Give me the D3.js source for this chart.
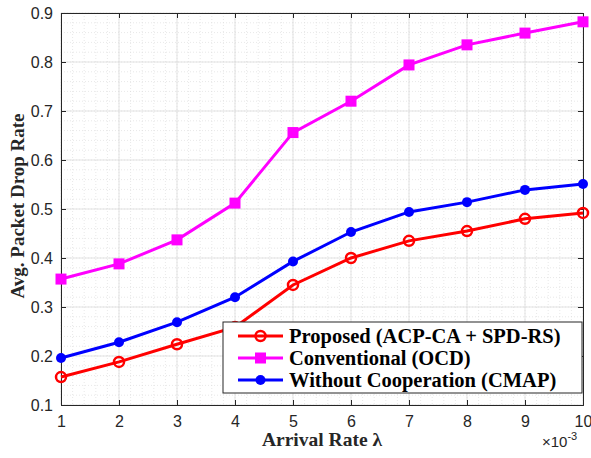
<!DOCTYPE html>
<html>
<head>
<meta charset="utf-8">
<script src="https://cdn.jsdelivr.net/npm/d3@7"></script>
<style>
  body { margin: 0; background: #fff; }
  svg { display: block; }
</style>
</head>
<body>
<svg></svg>
<script>
var width = 591,
  height = 458;

var margin = { top: 13, right: 8, bottom: 53, left: 61 };

// arrival rate (x 10^-3)
var rates = [1, 2, 3, 4, 5, 6, 7, 8, 9, 10];
var proposed = [0.157, 0.188, 0.224, 0.259, 0.345, 0.400, 0.435, 0.455, 0.480, 0.492];
var conventional = [0.357, 0.388, 0.437, 0.512, 0.656, 0.720, 0.794, 0.835, 0.859, 0.882];
var withoutCoop = [0.196, 0.228, 0.269, 0.320, 0.393, 0.453, 0.494, 0.514, 0.539, 0.551];
var yTicks = [0.1, 0.2, 0.3, 0.4, 0.5, 0.6, 0.7, 0.8, 0.9];
var names = ["Proposed (ACP-CA + SPD-RS)", "Conventional (OCD)", "Without Cooperation (CMAP)"];

var series = [
  { name: names[0], values: proposed, color: "#ff0000", marker: "opencircle" },
  { name: names[1], values: conventional, color: "#ff00ff", marker: "square" },
  { name: names[2], values: withoutCoop, color: "#0000ff", marker: "circle" }
];

var svg = d3.select("svg")
  .attr("width", width)
  .attr("height", height);

var w = width - margin.left - margin.right,
  h = height - margin.top - margin.bottom;

var x = d3.scaleLinear().domain([1, 10]).range([0, w]);
var y = d3.scaleLinear().domain([0.1, 0.9]).range([h, 0]);

var g = svg.append("g").attr("transform", "translate(" + margin.left + "," + margin.top + ")");

// minor grid
var xMinor = d3.range(1, 10.001, 0.2);
var yMinor = d3.range(0.1, 0.9001, 0.02);
g.append("g").selectAll("line").data(xMinor).enter().append("line")
  .attr("x1", d => x(d)).attr("x2", d => x(d))
  .attr("y1", 0).attr("y2", h)
  .attr("stroke", "#d8d8d8").attr("stroke-width", 0.6).attr("stroke-dasharray", "1,2");
g.append("g").selectAll("line").data(yMinor).enter().append("line")
  .attr("y1", d => y(d)).attr("y2", d => y(d))
  .attr("x1", 0).attr("x2", w)
  .attr("stroke", "#d8d8d8").attr("stroke-width", 0.6).attr("stroke-dasharray", "1,2");

// major grid
g.append("g").selectAll("line").data(rates).enter().append("line")
  .attr("x1", d => x(d)).attr("x2", d => x(d))
  .attr("y1", 0).attr("y2", h)
  .attr("stroke", "#dcdcdc").attr("stroke-width", 0.8);
g.append("g").selectAll("line").data(yTicks).enter().append("line")
  .attr("y1", d => y(d)).attr("y2", d => y(d))
  .attr("x1", 0).attr("x2", w)
  .attr("stroke", "#dcdcdc").attr("stroke-width", 0.8);

// axes (ticks inside, box on)
var tickFont = "Liberation Sans, Arial, sans-serif";
g.append("g").attr("transform", "translate(0," + h + ")")
  .call(d3.axisBottom(x).tickValues(rates).tickSize(-5).tickPadding(11).tickFormat(d3.format("d")));
g.append("g")
  .call(d3.axisLeft(y).tickValues(yTicks).tickSize(-5).tickPadding(8).tickFormat(d3.format(".1f")));
g.append("g")
  .call(d3.axisTop(x).tickValues(rates).tickSize(-5).tickFormat(""));
g.append("g").attr("transform", "translate(" + w + ",0)")
  .call(d3.axisRight(y).tickValues(yTicks).tickSize(-5).tickFormat(""));

g.selectAll(".domain").attr("stroke", "#262626").attr("stroke-width", 1);
g.selectAll(".tick line").attr("stroke", "#262626");
g.selectAll(".tick text").attr("fill", "#262626")
  .style("font-family", tickFont).style("font-size", "16px");

// lines
var line = d3.line()
  .x((d, i) => x(rates[i]))
  .y(d => y(d));

series.forEach(s => {
  g.append("path")
    .datum(s.values)
    .attr("fill", "none")
    .attr("stroke", s.color)
    .attr("stroke-width", 3)
    .attr("d", line);
});

function drawMarker(sel, type, color, cx, cy) {
  if (type === "square") {
    sel.append("rect").attr("x", cx - 5.5).attr("y", cy - 5.5)
      .attr("width", 11).attr("height", 11).attr("fill", color);
  } else if (type === "circle") {
    sel.append("circle").attr("cx", cx).attr("cy", cy).attr("r", 5).attr("fill", color);
  } else {
    sel.append("circle").attr("cx", cx).attr("cy", cy).attr("r", 5)
      .attr("fill", "none").attr("stroke", color).attr("stroke-width", 2.5);
  }
}

series.forEach(s => {
  var mg = g.append("g");
  s.values.forEach((v, i) => drawMarker(mg, s.marker, s.color, x(rates[i]), y(v)));
});

// legend
var lx = 162, ly = 309, lw = 359, lh = 71;
var leg = g.append("g");
leg.append("rect").attr("x", lx).attr("y", ly).attr("width", lw).attr("height", lh)
  .attr("fill", "#fff").attr("stroke", "#262626").attr("stroke-width", 1);
series.forEach((s, i) => {
  var ry = ly + 14 + i * 22;
  leg.append("line").attr("x1", lx + 15).attr("x2", lx + 60)
    .attr("y1", ry).attr("y2", ry)
    .attr("stroke", s.color).attr("stroke-width", 3);
  drawMarker(leg, s.marker, s.color, lx + 37.5, ry);
  leg.append("text").attr("x", lx + 66).attr("y", ry + 7)
    .attr("font-family", "Liberation Serif, Times New Roman, serif")
    .attr("font-weight", "bold").attr("font-size", "20.5px").attr("fill", "#000")
    .text(s.name);
});

// axis labels
svg.append("text")
  .attr("x", 322).attr("y", 446)
  .attr("text-anchor", "middle")
  .attr("font-family", "Liberation Serif, Times New Roman, serif")
  .attr("font-weight", "bold").attr("font-size", "19.5px").attr("fill", "#262626")
  .text("Arrival Rate λ");

svg.append("text")
  .attr("transform", "translate(24,206) rotate(-90)")
  .attr("text-anchor", "middle")
  .attr("font-family", "Liberation Serif, Times New Roman, serif")
  .attr("font-weight", "bold").attr("font-size", "19px").attr("fill", "#262626")
  .text("Avg. Packet Drop Rate");

// exponent label
var ex = svg.append("text")
  .attr("x", 542).attr("y", 447)
  .attr("font-family", tickFont).attr("font-size", "15px").attr("fill", "#262626");
ex.append("tspan").text("×10");
ex.append("tspan").attr("dy", -7).attr("font-size", "11px").text("-3");
</script>
</body>
</html>
